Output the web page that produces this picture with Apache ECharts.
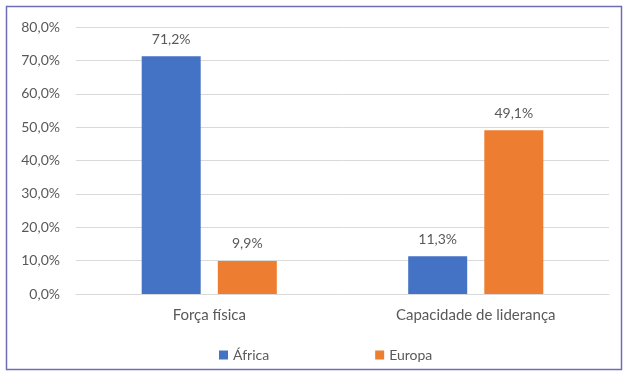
<!DOCTYPE html>
<html>
<head>
<meta charset="utf-8">
<script src="https://cdn.jsdelivr.net/npm/echarts@6/dist/echarts.min.js"></script>
<style>
html, body { margin: 0; padding: 0; background: #fff; }
#chart { width: 628px; height: 376px; }
</style>
</head>
<body>
<div id="chart"></div>
<script>
const categories = ['Força física', 'Capacidade de liderança'];
const africa = [71.2, 11.3];
const europa = [9.9, 49.1];
const seriesNames = ['África', 'Europa'];

const FONT = 'Lato';
const TEXT = '#595959';

function pct(v) {
    return v.toFixed(1).replace('.', ',') + '%';
}

const option = {
    animation: false,
    color: ['#4472c4', '#ed7d31'],
    textStyle: { fontFamily: FONT },
    graphic: [{
        type: 'rect',
        shape: { x: 6.5, y: 6.5, width: 615, height: 363 },
        style: { fill: 'none', stroke: '#6e6eb4', lineWidth: 1.5 },
        silent: true
    }],
    grid: {
        left: 76,
        right: 19,
        top: 27,
        bottom: 82
    },
    legend: {
        data: seriesNames,
        left: 214,
        top: 343,
        icon: 'rect',
        itemWidth: 9,
        itemHeight: 9,
        itemGap: 106,
        textStyle: { color: TEXT, fontSize: 14, fontFamily: FONT }
    },
    xAxis: {
        type: 'category',
        data: categories,
        axisLine: { lineStyle: { color: '#d9d9d9' } },
        axisTick: { show: false },
        axisLabel: { color: TEXT, fontSize: 15, margin: 14, fontFamily: FONT }
    },
    yAxis: {
        type: 'value',
        min: 0,
        max: 80,
        interval: 10,
        axisLine: { show: false },
        axisTick: { show: false },
        axisLabel: {
            color: TEXT,
            fontSize: 14,
            margin: 16,
            fontFamily: FONT,
            formatter: pct
        },
        splitLine: { lineStyle: { color: '#d9d9d9' } }
    },
    series: [
        {
            name: seriesNames[0],
            type: 'bar',
            data: africa,
            barWidth: 59,
            barGap: '29%',
            label: {
                show: true,
                position: 'top',
                distance: 10,
                color: TEXT,
                fontSize: 14,
                fontFamily: FONT,
                formatter: p => pct(p.value)
            }
        },
        {
            name: seriesNames[1],
            type: 'bar',
            data: europa,
            barWidth: 59,
            barGap: '29%',
            label: {
                show: true,
                position: 'top',
                distance: 10,
                color: TEXT,
                fontSize: 14,
                fontFamily: FONT,
                formatter: p => pct(p.value)
            }
        }
    ]
};

const chart = echarts.init(document.getElementById('chart'));
chart.setOption(option);
</script>
</body>
</html>
